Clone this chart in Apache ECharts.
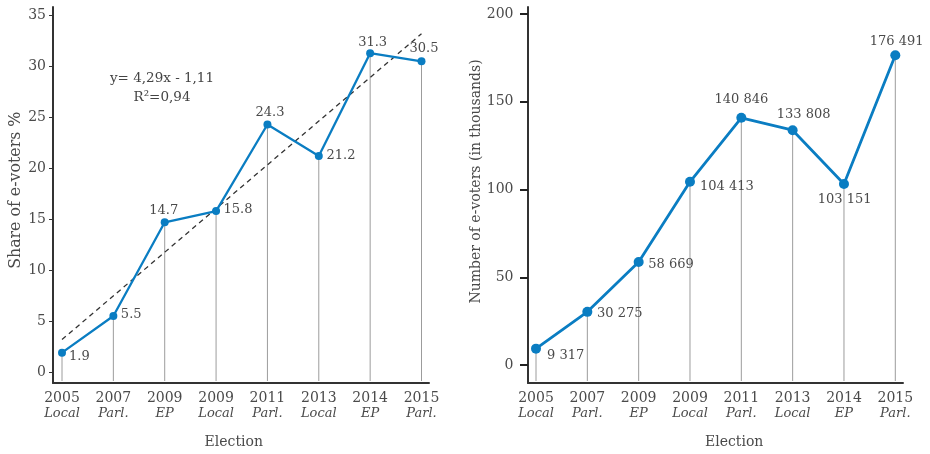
<!DOCTYPE html>
<html>
<head>
<meta charset="utf-8">
<script src="https://cdn.jsdelivr.net/npm/echarts@6/dist/echarts.min.js"></script>
<style>
  html, body { margin: 0; padding: 0; background: #fff; }
  #chart { width: 930px; height: 454px; }
</style>
</head>
<body>
<div id="chart"></div>
<script>
// Elections (year + type of election)
const electionYears = ['2005', '2007', '2009', '2009', '2011', '2013', '2014', '2015'];
const electionTypes = ['Local', 'Parl.', 'EP', 'Local', 'Parl.', 'Local', 'EP', 'Parl.'];

// Share of e-voters, %
const sharePct = [1.9, 5.5, 14.7, 15.8, 24.3, 21.2, 31.3, 30.5];
// Number of e-voters
const voterCounts = [9317, 30275, 58669, 104413, 140846, 133808, 103151, 176491];

// Axis ticks
const shareTicks = [0, 5, 10, 15, 20, 25, 30, 35];
const countTicksThousands = [0, 50, 100, 150, 200];

// Linear trend of the share (x = 1 for the first election)
const trendSlope = 4.29;
const trendIntercept = -1.11;
const trendText = ['y= 4,29x - 1,11', 'R\u00b2=0,94'];

const FONT = '"DejaVu Serif", serif';
const BLUE = '#0a7dc2';
const TEXT = '#4a4a4a';
const AXIS = '#333';

const categories = electionYears.map((y, i) => y + '\n' + electionTypes[i]);

// label placement per point: [position, dx, dy]
const shareLabelPlace = [
  ['right', 0, 4], ['right', 0.5, -1], ['top', -1, 2], ['right', 0.5, -1],
  ['top', 2.5, 2], ['right', 0.7, 0], ['top', 2.5, 3], ['top', 2.5, 1]
];
const countLabelPlace = [
  ['right', 3, 6.5], ['right', 1.7, 1.3], ['right', 1.6, 3], ['right', 2, 5],
  ['top', 0, -4], ['top', 11, -1.2], ['bottom', 0.7, 1.2], ['top', 1.4, 0.5]
];

function fmtThousands(v) {
  return String(v).replace(/\B(?=(\d{3})+(?!\d))/g, ' ');
}

function catLabel(value) {
  const parts = value.split('\n');
  return '{y|' + parts[0] + '}\n{t|' + parts[1] + '}';
}

const catRich = {
  y: { fontFamily: FONT, fontSize: 14, color: TEXT, lineHeight: 15 },
  t: { fontFamily: FONT, fontSize: 13, fontStyle: 'italic', color: TEXT, lineHeight: 15 }
};

// frame grid: only the two axis lines of a panel
function frameAxes(gridIndex) {
  return {
    x: {
      type: 'value', gridIndex, min: 0, max: 1,
      axisLine: { show: true, onZero: false, lineStyle: { color: AXIS, width: 2 } },
      axisTick: { show: false }, axisLabel: { show: false }, splitLine: { show: false }
    },
    y: {
      type: 'value', gridIndex, min: 0, max: 1,
      axisLine: { show: true, onZero: false, lineStyle: { color: AXIS, width: 2 } },
      axisTick: { show: false }, axisLabel: { show: false }, splitLine: { show: false }
    }
  };
}

function dropLines(axisIndex, values, extra) {
  return {
    type: 'custom',
    xAxisIndex: axisIndex, yAxisIndex: axisIndex,
    data: values.map((v, i) => [i, v]),
    encode: { x: 0, y: 1 },
    clip: false, silent: true, z: 1,
    renderItem(params, api) {
      const p = api.coord([api.value(0), api.value(1)]);
      const cs = params.coordSys;
      return {
        type: 'line',
        shape: { x1: p[0], y1: p[1], x2: p[0], y2: cs.y + cs.height + extra },
        style: { stroke: '#9c9c9c', lineWidth: 1 }
      };
    }
  };
}

function pointData(values, place, fmt) {
  return values.map((v, i) => ({
    value: v,
    label: {
      position: place[i][0],
      offset: [place[i][1], place[i][2]],
      formatter: fmt(v)
    }
  }));
}

const f0 = frameAxes(0);
const f2 = frameAxes(2);

const trendData = [0, categories.length - 1].map(i => [i, trendSlope * (i + 1) + trendIntercept]);

const option = {
  backgroundColor: '#fff',
  animation: false,
  textStyle: { fontFamily: FONT },
  grid: [
    { left: 53, top: 7, width: 376, height: 376 },        // left frame
    { left: 62, top: 15.5, width: 359.5, height: 358.8 }, // left data
    { left: 528, top: 7, width: 375, height: 376 },       // right frame
    { left: 536, top: 14, width: 359.3, height: 352.7 }   // right data
  ],
  xAxis: [
    f0.x,
    {
      type: 'category', gridIndex: 1, data: categories, boundaryGap: false,
      axisLine: { show: false }, axisTick: { show: false }, splitLine: { show: false },
      axisLabel: { margin: 19, formatter: catLabel, rich: catRich, interval: 0 },
      name: 'Election', nameLocation: 'middle', nameGap: 63,
      nameTextStyle: { fontFamily: FONT, fontSize: 14, color: TEXT, padding: [0, 16, 0, 0] }
    },
    f2.x,
    {
      type: 'category', gridIndex: 3, data: categories, boundaryGap: false,
      axisLine: { show: false }, axisTick: { show: false }, splitLine: { show: false },
      axisLabel: { margin: 26, formatter: catLabel, rich: catRich, interval: 0 },
      name: 'Election', nameLocation: 'middle', nameGap: 70,
      nameTextStyle: { fontFamily: FONT, fontSize: 14, color: TEXT, padding: [0, 0, 0, 37] }
    }
  ],
  yAxis: [
    f0.y,
    {
      type: 'value', gridIndex: 1, offset: 9,
      min: shareTicks[0], max: shareTicks[shareTicks.length - 1], interval: shareTicks[1] - shareTicks[0],
      axisLine: { show: false },
      axisTick: { show: true, length: 4, lineStyle: { color: AXIS, width: 1 } },
      splitLine: { show: false },
      axisLabel: { margin: 7, fontFamily: FONT, fontSize: 14, color: TEXT },
      name: 'Share of e-voters %', nameLocation: 'middle', nameGap: 29,
      nameTextStyle: { fontFamily: FONT, fontSize: 15.8, color: TEXT, padding: [0, 0, 0, 7] }
    },
    f2.y,
    {
      type: 'value', gridIndex: 3, offset: 8,
      min: countTicksThousands[0] * 1000,
      max: countTicksThousands[countTicksThousands.length - 1] * 1000,
      interval: (countTicksThousands[1] - countTicksThousands[0]) * 1000,
      axisLine: { show: false },
      axisTick: { show: true, length: 8, lineStyle: { color: '#222', width: 2 } },
      splitLine: { show: false },
      axisLabel: { margin: 14.5, fontFamily: FONT, fontSize: 14, color: TEXT, formatter: v => String(v / 1000) },
      name: 'Number of e-voters (in thousands)', nameLocation: 'middle', nameGap: 45,
      nameTextStyle: { fontFamily: FONT, fontSize: 14, color: TEXT, padding: [0, 0, 0, 16] }
    }
  ],
  graphic: [
    {
      type: 'text', x: 162, y: 78,
      style: { text: trendText[0], font: '13.5px ' + FONT, fill: '#444', textAlign: 'center', textVerticalAlign: 'middle' }
    },
    {
      type: 'text', x: 162, y: 97,
      style: { text: trendText[1], font: '13.5px ' + FONT, fill: '#444', textAlign: 'center', textVerticalAlign: 'middle' }
    }
  ],
  series: [
    dropLines(1, sharePct, 9),
    {
      type: 'line', xAxisIndex: 1, yAxisIndex: 1, z: 3,
      data: trendData, symbol: 'none', silent: true,
      lineStyle: { color: '#333', width: 1.3, type: [5, 4] }
    },
    {
      type: 'line', xAxisIndex: 1, yAxisIndex: 1, z: 4,
      data: pointData(sharePct, shareLabelPlace, v => String(v)),
      symbol: 'circle', symbolSize: 8, showAllSymbol: true,
      itemStyle: { color: BLUE },
      lineStyle: { color: BLUE, width: 2.3 },
      label: { show: true, distance: 3, fontFamily: FONT, fontSize: 13, color: TEXT }
    },
    dropLines(3, voterCounts, 16),
    {
      type: 'line', xAxisIndex: 3, yAxisIndex: 3, z: 4,
      data: pointData(voterCounts, countLabelPlace, v => fmtThousands(v)),
      symbol: 'circle', symbolSize: 10, showAllSymbol: true,
      itemStyle: { color: BLUE },
      lineStyle: { color: BLUE, width: 2.8 },
      label: { show: true, distance: 3, fontFamily: FONT, fontSize: 13, color: TEXT }
    }
  ]
};

const chart = echarts.init(document.getElementById('chart'), null, { renderer: 'canvas' });
chart.setOption(option);
</script>
</body>
</html>
